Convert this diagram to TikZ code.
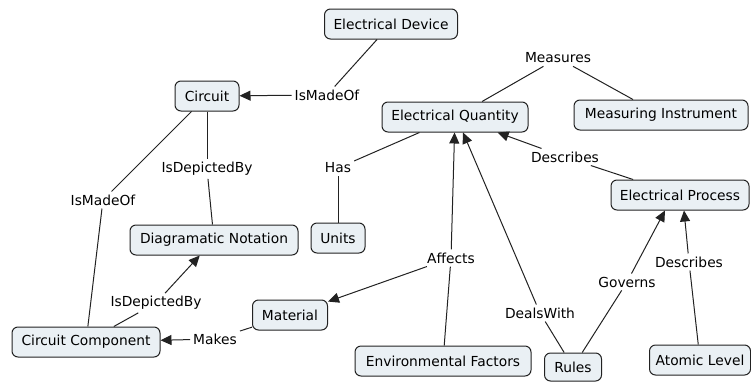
\documentclass[tikz,border=0pt]{standalone}
\usepackage{fontspec}
\setmainfont{DejaVu Sans}
\usetikzlibrary{arrows.meta}
\definecolor{boxfill}{HTML}{EAF0F4}
\definecolor{linecol}{HTML}{222222}
\begin{document}
\begin{tikzpicture}[x=1pt,y=-1pt,
  concept/.style={draw=linecol, fill=boxfill, rounded corners=6pt, line width=1pt,
    minimum height=30pt, inner sep=2pt, font=\fontsize{13.8}{16}\selectfont},
  lab/.style={inner sep=3pt, font=\fontsize{13.8}{16}\selectfont},
  link/.style={line width=1pt, draw=linecol},
  arr/.style={link, -{Triangle[length=11pt,width=10pt]}}]
\useasboundingbox (0,0) rectangle (751,383);
% concepts
\node[concept, minimum width=133pt] (dev) at (391,24) {Electrical Device};
\node[concept, minimum width=64pt] (circ) at (207,96) {Circuit};
\node[concept, minimum width=146pt] (eq) at (455,117) {Electrical Quantity};
\node[concept, minimum width=174pt] (mi) at (661,115) {Measuring Instrument};
\node[concept, minimum width=138pt] (ep) at (680,195) {Electrical Process};
\node[concept, minimum width=168pt] (dn) at (214,240) {Diagramatic Notation};
\node[concept, minimum width=54pt] (units) at (338,238) {Units};
\node[concept, minimum width=75pt] (mat) at (290,315) {Material};
\node[concept, minimum width=148pt] (cc) at (86,342) {Circuit Component};
\node[concept, minimum width=176pt] (ef) at (443,361) {Environmental Factors};
\node[concept, minimum width=57pt, minimum height=28pt] (rules) at (573,367) {Rules};
\node[concept, minimum width=101pt] (al) at (700,360) {Atomic Level};
% labels
\node[lab] (im1) at (327,95) {IsMadeOf};
\node[lab] (meas) at (558,58) {Measures};
\node[lab] (desc1) at (565,157) {Describes};
\node[lab] (has) at (338,168) {Has};
\node[lab] (idb1) at (207,169) {IsDepictedBy};
\node[lab] (im2) at (103,200) {IsMadeOf};
\node[lab] (idb2) at (156,303) {IsDepictedBy};
\node[lab] (makes) at (215,339) {Makes};
\node[lab] (aff) at (451,258) {Affects};
\node[lab] (dw) at (540,313) {DealsWith};
\node[lab] (gov) at (627,282) {Governs};
\node[lab] (desc2) at (689,262) {Describes};
% connectors
\draw[link] (dev) -- (im1);
\draw[arr] (im1) -- (circ);
\draw[link] (eq) -- (meas);
\draw[link] (meas) -- (mi);
\draw[link] (ep) -- (desc1);
\draw[arr] (desc1) -- (eq);
\draw[link] (eq) -- (has);
\draw[link] (has) -- (units);
\draw[link] (circ) -- (idb1);
\draw[link] (idb1) -- (dn);
\draw[link] (circ) -- (im2);
\draw[link] (im2) -- (cc);
\draw[link] (cc) -- (idb2);
\draw[arr] (idb2) -- (dn);
\draw[link] (mat) -- (makes);
\draw[arr] (makes) -- (cc);
\draw[link] (ef) -- (aff);
\draw[arr] (aff) -- (eq);
\draw[arr] (aff) -- (mat);
\draw[link] (rules) -- (dw);
\draw[arr] (dw) -- ([xshift=8pt]eq.south);
\draw[link] (rules) -- (gov);
\draw[arr] (gov) -- ([xshift=-15pt]ep.south);
\draw[link] (al) -- (desc2);
\draw[arr] (desc2) -- ([xshift=4pt]ep.south);
\end{tikzpicture}
\end{document}
